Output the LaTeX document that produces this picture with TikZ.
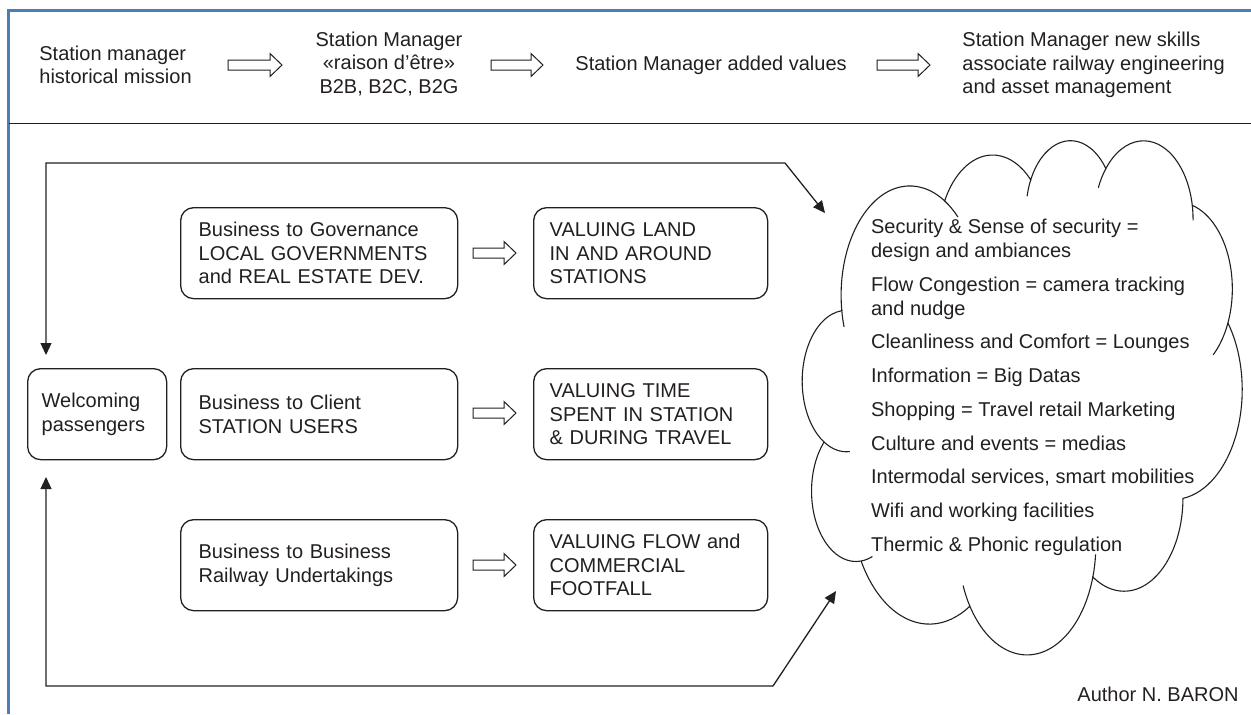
\documentclass[tikz,border=0pt]{standalone}
\usepackage{fontspec}
\setmainfont{Liberation Sans}
\usetikzlibrary{arrows.meta}
\definecolor{ink}{RGB}{35,31,32}
\definecolor{frameblue}{RGB}{74,126,187}
\newcommand\blockarrow[3]{%
  \draw[blockarr] (#1,#3-5) -- (#2-12,#3-5) -- (#2-12,#3-11.5) -- (#2,#3)
    -- (#2-12,#3+11.5) -- (#2-12,#3+5) -- (#1,#3+5) -- cycle;}
\tikzset{
  warc/.style n args={4}{x radius=#1, y radius=#2,
    start angle={atan2((#1)*sin(#3),(#2)*cos(#3))},
    delta angle={mod(atan2((#1)*sin((#3)+(#4)),(#2)*cos((#3)+(#4)))-atan2((#1)*sin(#3),(#2)*cos(#3))+720,360)}},
  warcn/.style n args={4}{x radius=#1, y radius=#2,
    start angle={atan2((#1)*sin(#3),(#2)*cos(#3))},
    delta angle={-mod(atan2((#1)*sin(#3),(#2)*cos(#3))-atan2((#1)*sin((#3)+(#4)),(#2)*cos((#3)+(#4)))+720,360)}}
}
\begin{document}
\begin{tikzpicture}[x=0.5pt,y=-0.5pt,
  every node/.style={font=\fontsize{10}{11.8}\selectfont, text=ink},
  box/.style={draw=ink, line width=0.65pt, rounded corners=6.5pt, align=left,
    inner ysep=0pt, minimum height=45.5pt, anchor=north west},
  plain/.style={inner sep=0pt},
  blockarr/.style={draw=ink, line width=0.5pt, fill=white},
  fbline/.style={draw=ink, line width=0.65pt, {Triangle[length=6pt,width=5.5pt]}-{Triangle[length=6pt,width=5.5pt]}},
  cloudline/.style={draw=ink, line width=0.55pt}
]
\useasboundingbox (0,0) rectangle (1251,714);

% frame
\draw[frameblue, line width=1.5pt] (8.5,714) -- (8.5,10) -- (1251,10);
\draw[ink, line width=0.75pt] (8.5,123.5) -- (1251,123.5);

% top band
\node[plain, anchor=west, align=left] (t1) at (39,65) {Station manager\\historical mission};
\blockarrow{228}{282}{65}
\node[plain, align=center] (t2) at (389,64) {Station Manager\\«raison d’être»\\B2B, B2C, B2G};
\blockarrow{491}{543}{65}
\node[plain, anchor=west] (t3) at (575,65) {Station Manager added values};
\blockarrow{877}{930}{65}
\node[plain, anchor=west, align=left] (t4) at (962,65) {Station Manager new skills\\associate railway engineering\\and asset management};

% boxes
\node[box, inner xsep=7pt, text width=55.5pt] (W) at (27,368) {Welcoming\\passengers};
\node[box, inner xsep=9pt, text width=120.5pt] (G) at (180,207) {Business to Governance\\LOCAL GOVERNMENTS\\and REAL ESTATE DEV.};
\node[box, inner xsep=9pt, text width=120.5pt] (C) at (180,368) {Business to Client\\STATION USERS};
\node[box, inner xsep=9pt, text width=120.5pt] (B) at (180,519) {Business to Business\\Railway Undertakings};
\node[box, inner xsep=8pt, text width=101pt] (VL) at (533,207) {VALUING LAND\\IN AND AROUND\\STATIONS};
\node[box, inner xsep=8pt, text width=101pt] (VT) at (533,368) {VALUING TIME\\SPENT IN STATION\\\& DURING TRAVEL};
\node[box, inner xsep=8pt, text width=101pt] (VF) at (533,519) {VALUING FLOW and\\COMMERCIAL\\FOOTFALL};

\blockarrow{473}{516}{253}
\blockarrow{473}{516}{413}
\blockarrow{473}{516}{565}

% cloud
\begin{scope}[shift={(802,139)}, x=0.509259pt, y=-0.594907pt]
\draw[cloudline] (39.00,143.70) coordinate (c0)
  arc[warc={67.53}{91.90}{-190.487}{123.781}] coordinate (c1)
  arc[warc={53.33}{72.67}{-144.102}{89.945}] coordinate (c2)
  arc[warc={43.65}{59.45}{-145.808}{99.723}] coordinate (c3)
  arc[warc={48.57}{65.95}{-130.986}{117.242}] coordinate (c4)
  arc[warc={53.33}{72.73}{-78.709}{109.027}] coordinate (c5)
  arc[warc={67.75}{92.20}{-46.267}{130.269}] coordinate (c6)
  arc[warc={57.85}{78.67}{0.625}{114.033}] coordinate (c7)
  arc[warc={67.52}{92.15}{22.452}{115.173}] coordinate (c8)
  arc[warc={77.20}{105.43}{66.243}{75.72}] coordinate (c9)
  arc[warc={43.60}{59.18}{-274.942}{147.730}] coordinate (c10)
  arc[warc={43.45}{59.45}{-246.829}{152.523}] -- cycle;
\draw[cloudline] (c0) arc[warcn={67.53}{91.90}{-190.487}{-11.858}];
\draw[cloudline] (c1) arc[warc={67.53}{91.90}{-66.706}{12.319}];
\draw[cloudline] (c2) arc[warcn={43.65}{59.45}{-145.808}{-17.686}];
\draw[cloudline] (c3) arc[warcn={48.57}{65.95}{-130.986}{-18.195}];
\draw[cloudline] (c4) arc[warc={48.57}{65.95}{-13.744}{14.859}];
\draw[cloudline] (c5) arc[warc={53.33}{72.73}{30.318}{27.752}];
\draw[cloudline] (c7) arc[warcn={67.52}{92.15}{22.452}{-15.998}];
\draw[cloudline] (c8) arc[warc={67.52}{92.15}{137.625}{14.081}];
\draw[cloudline] (c9) arc[warcn={43.60}{59.18}{85.058}{-11.447}];
\draw[cloudline] (c10) arc[warcn={43.45}{59.45}{113.171}{-26.430}];
\end{scope}

% cloud text
\node[plain, anchor=base west] (s1) at (870.7,233.7) {Security \& Sense of security =};
\node[plain, anchor=base west] (s1b) at (870.7,257) {design and ambiances};
\node[plain, anchor=base west] (s2) at (870.7,291.3) {Flow Congestion = camera tracking};
\node[plain, anchor=base west] (s2b) at (870.7,315.3) {and nudge};
\node[plain, anchor=base west] (s3) at (870.7,348) {Cleanliness and Comfort = Lounges};
\node[plain, anchor=base west] (s4) at (870.7,382.5) {Information = Big Datas};
\node[plain, anchor=base west] (s5) at (870.7,416.5) {Shopping = Travel retail Marketing};
\node[plain, anchor=base west] (s6) at (870.7,450.5) {Culture and events = medias};
\node[plain, anchor=base west] (s7) at (870.7,483.5) {Intermodal services, smart mobilities};
\node[plain, anchor=base west] (s8) at (870.7,517.3) {Wifi and working facilities};
\node[plain, anchor=base west] (s9) at (870.7,551.5) {Thermic \& Phonic regulation};

% feedback loops
\coordinate (wt) at (46,355);
\coordinate (wb) at (46,477);
\coordinate (ca) at (825,213);
\coordinate (cb) at (836,591);
\draw[fbline] (wt) -- (46,163) -- (785,163) -- (ca);
\draw[fbline] (wb) -- (46,686) -- (773,686) -- (cb);

\node[plain, anchor=base east] (author) at (1239,701.5) {Author N. BARON};
\end{tikzpicture}
\end{document}
